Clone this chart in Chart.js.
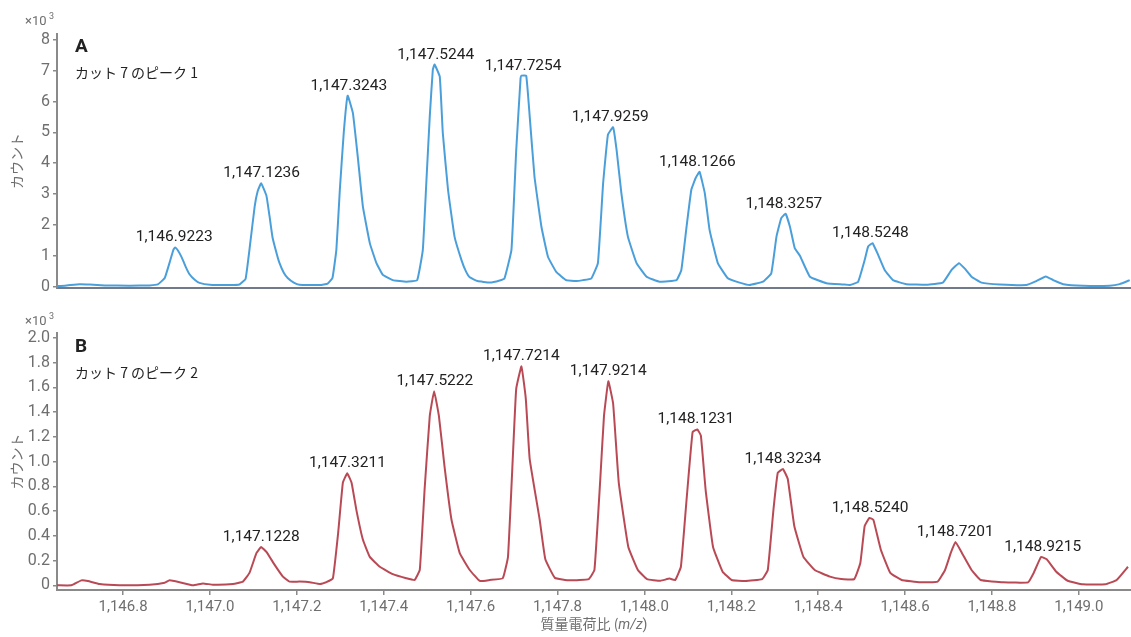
<!DOCTYPE html>
<html>
<head>
<meta charset="utf-8">
<script src="https://cdn.jsdelivr.net/npm/chart.js@4.4.1/dist/chart.umd.min.js"></script>
<style>
  html, body { margin: 0; padding: 0; background: #fff; }
  #wrap { position: relative; width: 1131px; height: 637px; }
  .panel { position: absolute; left: 0; width: 1131px; }
</style>
</head>
<body>
<div id="wrap">
  <div class="panel" style="top:0;height:300px"><canvas id="chartA"></canvas></div>
  <div class="panel" style="top:300px;height:337px"><canvas id="chartB"></canvas></div>
</div>
<script>
// m/z range shown on both panels
var mzMin = 1146.648, mzMax = 1149.12;

// panel A : counts in x10^3
var topMz = [1146.648, 1146.666, 1146.700, 1146.723, 1146.758, 1146.815, 1146.861, 1146.880, 1146.896, 1146.907,
  1146.916, 1146.920, 1146.926, 1146.935, 1146.944, 1146.953, 1146.965, 1146.976, 1147.000, 1147.045,
  1147.068, 1147.082, 1147.091, 1147.103, 1147.110, 1147.118, 1147.130, 1147.137, 1147.144, 1147.154,
  1147.160, 1147.170, 1147.179, 1147.193, 1147.206, 1147.253, 1147.271, 1147.282, 1147.291, 1147.299,
  1147.308, 1147.317, 1147.329, 1147.341, 1147.352, 1147.368, 1147.383, 1147.398, 1147.421, 1147.452,
  1147.477, 1147.490, 1147.498, 1147.506, 1147.513, 1147.517, 1147.529, 1147.536, 1147.548, 1147.563,
  1147.579, 1147.589, 1147.598, 1147.616, 1147.644, 1147.667, 1147.678, 1147.694, 1147.705, 1147.715,
  1147.717, 1147.728, 1147.736, 1147.747, 1147.763, 1147.778, 1147.797, 1147.820, 1147.843, 1147.859,
  1147.878, 1147.893, 1147.905, 1147.916, 1147.928, 1147.936, 1147.947, 1147.962, 1147.982, 1148.005,
  1148.035, 1148.074, 1148.085, 1148.097, 1148.108, 1148.118, 1148.127, 1148.139, 1148.150, 1148.169,
  1148.192, 1148.219, 1148.242, 1148.273, 1148.292, 1148.304, 1148.315, 1148.325, 1148.335, 1148.346,
  1148.358, 1148.381, 1148.419, 1148.457, 1148.473, 1148.492, 1148.507, 1148.515, 1148.525, 1148.538,
  1148.553, 1148.572, 1148.603, 1148.649, 1148.687, 1148.707, 1148.724, 1148.737, 1148.753, 1148.776,
  1148.818, 1148.879, 1148.899, 1148.924, 1148.941, 1148.964, 1149.010, 1149.071, 1149.094, 1149.117];
var topCounts = [0.02, 0.03, 0.08, 0.07, 0.04, 0.03, 0.04, 0.07, 0.28, 0.77,
  1.2, 1.27, 1.18, 0.95, 0.65, 0.4, 0.22, 0.12, 0.06, 0.05,
  0.07, 0.25, 1.2, 2.6, 3.1, 3.35, 2.95, 2.3, 1.6, 1.05,
  0.77, 0.45, 0.28, 0.13, 0.06, 0.05, 0.1, 0.28, 1.19, 3.14,
  4.99, 6.19, 5.63, 4.11, 2.6, 1.41, 0.77, 0.38, 0.21, 0.16,
  0.21, 1.19, 3.35, 5.52, 7.03, 7.2, 6.81, 4.98, 3.14, 1.62,
  0.86, 0.5, 0.3, 0.18, 0.13, 0.2, 0.27, 1.19, 4.43, 6.76,
  6.84, 6.84, 5.52, 3.57, 1.94, 0.97, 0.48, 0.21, 0.18, 0.21,
  0.27, 0.76, 3.35, 4.92, 5.17, 4.43, 3.03, 1.62, 0.76, 0.32,
  0.16, 0.21, 0.54, 1.94, 3.14, 3.52, 3.72, 3.03, 1.84, 0.76,
  0.27, 0.13, 0.05, 0.16, 0.43, 1.62, 2.22, 2.36, 1.94, 1.25,
  1.0, 0.32, 0.11, 0.07, 0.05, 0.16, 0.86, 1.3, 1.41, 1.03,
  0.54, 0.21, 0.08, 0.06, 0.13, 0.54, 0.76, 0.59, 0.32, 0.13,
  0.07, 0.05, 0.16, 0.33, 0.21, 0.08, 0.03, 0.03, 0.08, 0.21];
var topPeakMz = [1146.9223, 1147.1236, 1147.3243, 1147.5244, 1147.7254, 1147.9259, 1148.1266, 1148.3257, 1148.5248];
var topPeakCounts = [1.27, 3.35, 6.19, 7.2, 6.84, 5.17, 3.72, 2.36, 1.41];

// panel B : counts in x10^3
var bottomMz = [1146.648, 1146.681, 1146.704, 1146.719, 1146.746, 1146.792, 1146.861, 1146.896, 1146.907, 1146.930,
  1146.961, 1146.984, 1147.007, 1147.053, 1147.076, 1147.091, 1147.107, 1147.118, 1147.130, 1147.149,
  1147.168, 1147.183, 1147.206, 1147.230, 1147.253, 1147.268, 1147.283, 1147.295, 1147.306, 1147.316,
  1147.326, 1147.337, 1147.352, 1147.368, 1147.391, 1147.421, 1147.452, 1147.471, 1147.483, 1147.494,
  1147.506, 1147.516, 1147.527, 1147.540, 1147.556, 1147.575, 1147.598, 1147.621, 1147.644, 1147.674,
  1147.686, 1147.698, 1147.705, 1147.717, 1147.727, 1147.736, 1147.759, 1147.772, 1147.794, 1147.829,
  1147.872, 1147.885, 1147.898, 1147.907, 1147.917, 1147.928, 1147.941, 1147.963, 1147.985, 1148.006,
  1148.037, 1148.058, 1148.071, 1148.084, 1148.097, 1148.111, 1148.122, 1148.130, 1148.141, 1148.158,
  1148.180, 1148.201, 1148.232, 1148.271, 1148.284, 1148.297, 1148.307, 1148.319, 1148.330, 1148.345,
  1148.366, 1148.392, 1148.427, 1148.453, 1148.483, 1148.497, 1148.507, 1148.518, 1148.527, 1148.544,
  1148.566, 1148.592, 1148.635, 1148.675, 1148.692, 1148.705, 1148.716, 1148.731, 1148.753, 1148.774,
  1148.826, 1148.883, 1148.896, 1148.913, 1148.926, 1148.948, 1148.974, 1149.009, 1149.061, 1149.087,
  1149.113];
var bottomCounts = [0.0, 0.0, 0.04, 0.035, 0.01, 0.0, 0.005, 0.02, 0.04, 0.025,
  0.0, 0.015, 0.005, 0.01, 0.03, 0.1, 0.26, 0.31, 0.27, 0.165,
  0.07, 0.03, 0.03, 0.025, 0.01, 0.025, 0.057, 0.42, 0.83, 0.905,
  0.83, 0.61, 0.37, 0.23, 0.15, 0.09, 0.057, 0.043, 0.124, 0.77,
  1.37, 1.57, 1.37, 0.96, 0.53, 0.26, 0.124, 0.035, 0.043, 0.057,
  0.23, 1.1, 1.59, 1.77, 1.51, 1.02, 0.53, 0.21, 0.06, 0.04,
  0.05, 0.124, 0.83, 1.37, 1.65, 1.47, 0.83, 0.31, 0.124, 0.05,
  0.037, 0.054, 0.043, 0.15, 0.69, 1.24, 1.26, 1.21, 0.77, 0.31,
  0.11, 0.043, 0.035, 0.05, 0.124, 0.61, 0.91, 0.94, 0.86, 0.48,
  0.23, 0.124, 0.07, 0.05, 0.05, 0.18, 0.48, 0.545, 0.53, 0.29,
  0.1, 0.043, 0.024, 0.03, 0.124, 0.26, 0.35, 0.26, 0.124, 0.043,
  0.024, 0.024, 0.1, 0.23, 0.21, 0.11, 0.037, 0.008, 0.008, 0.043,
  0.15];
var bottomPeakMz = [1147.1228, 1147.3211, 1147.5222, 1147.7214, 1147.9214, 1148.1231, 1148.3234, 1148.5240, 1148.7201, 1148.9215];
var bottomPeakCounts = [0.31, 0.905, 1.57, 1.77, 1.65, 1.26, 0.94, 0.545, 0.35, 0.23];

var SANS = "Roboto, sans-serif";
var JP = "'Noto Sans CJK JP', sans-serif";
var GREY = '#6f6f6f';

function fmtMz(v, d) {
  return v.toLocaleString('en-US', { minimumFractionDigits: d, maximumFractionDigits: d });
}

function toPoints(xs, ys) {
  return xs.map(function (x, i) { return { x: x, y: ys[i] }; });
}

function zeroPad(scale) {
  scale.paddingTop = 0; scale.paddingBottom = 0;
  scale.paddingLeft = 0; scale.paddingRight = 0;
}

// peak labels, panel caption, x10^3 and axis titles
var notes = {
  id: 'notes',
  afterDraw: function (chart, args, o) {
    var ctx = chart.ctx, x = chart.scales.x, y = chart.scales.y, area = chart.chartArea;
    ctx.save();
    ctx.fillStyle = '#222';
    ctx.font = '15.5px ' + SANS;
    ctx.textAlign = 'center';
    ctx.textBaseline = 'alphabetic';
    o.peakMz.forEach(function (m, i) {
      ctx.fillText(fmtMz(m, 4), x.getPixelForValue(m) - 2, y.getPixelForValue(o.peakCounts[i]) - 6);
    });

    ctx.textAlign = 'left';
    ctx.font = 'bold 19px ' + SANS;
    ctx.fillText(o.letter, 75, 52);
    ctx.font = '14px ' + JP;
    ctx.fillText(o.caption, 75, 78);

    ctx.fillStyle = GREY;
    ctx.font = '13px ' + SANS;
    ctx.fillText('×10', 25, 25);
    ctx.font = '9px ' + SANS;
    ctx.fillText('3', 49, 19);

    ctx.save();
    ctx.translate(22, (area.top + area.bottom) / 2);
    ctx.rotate(-Math.PI / 2);
    ctx.textAlign = 'center';
    ctx.font = '14px ' + JP;
    ctx.fillText('カウント', 0, 0);
    ctx.restore();

    if (o.xTitle) {
      var cx = (area.left + area.right) / 2, ty = 329;
      ctx.font = '14px ' + JP;
      var a = '質量電荷比 (', b = 'm/z', c = ')';
      var wa = ctx.measureText(a).width;
      ctx.font = 'italic 14px ' + SANS;
      var wb = ctx.measureText(b).width;
      ctx.font = '14px ' + SANS;
      var wc = ctx.measureText(c).width;
      var sx = cx - (wa + wb + wc) / 2;
      ctx.font = '14px ' + JP;
      ctx.fillText(a, sx, ty);
      ctx.font = 'italic 14px ' + SANS;
      ctx.fillText(b, sx + wa, ty);
      ctx.font = '14px ' + SANS;
      ctx.fillText(c, sx + wa + wb, ty);
    }
    ctx.restore();
  }
};

function makeChart(id, opts) {
  var ctx = document.getElementById(id).getContext('2d');
  return new Chart(ctx, {
    type: 'line',
    data: {
      datasets: [{
        data: toPoints(opts.mz, opts.counts),
        borderColor: opts.color,
        borderWidth: 2,
        pointRadius: 0,
        tension: 0.1,
        fill: false
      }]
    },
    options: {
      responsive: true,
      maintainAspectRatio: false,
      animation: false,
      events: [],
      layout: { padding: { top: opts.padTop, left: 0, right: 0, bottom: 0 } },
      plugins: {
        legend: { display: false },
        tooltip: { enabled: false },
        notes: {
          peakMz: opts.peakMz, peakCounts: opts.peakCounts,
          letter: opts.letter, caption: opts.caption, xTitle: opts.xTitle
        }
      },
      scales: {
        x: {
          type: 'linear',
          min: mzMin,
          max: mzMax,
          border: { display: true, color: opts.xAxisColor, width: 2 },
          grid: { display: opts.xTicks, drawOnChartArea: false, drawTicks: opts.xTicks, tickLength: 5, color: '#8a8a8a', lineWidth: 1.5 },
          ticks: {
            display: opts.xTicks,
            stepSize: 0.2,
            includeBounds: false,
            maxRotation: 0,
            autoSkip: false,
            padding: 3,
            color: GREY,
            font: { family: SANS, size: 15 },
            callback: function (v) { return fmtMz(v, 1); }
          },
          afterFit: function (scale) { scale.height = opts.xHeight; zeroPad(scale); }
        },
        y: {
          min: opts.yMin,
          max: opts.yMax,
          border: { display: true, color: '#8a8a8a', width: 2 },
          grid: { display: true, drawOnChartArea: false, drawTicks: true, tickLength: 4, color: '#8a8a8a', lineWidth: 1.5 },
          ticks: {
            stepSize: opts.yStep,
            includeBounds: false,
            padding: 3,
            color: GREY,
            font: { family: SANS, size: 16 },
            callback: opts.yFormat
          },
          afterFit: function (scale) { scale.width = 57; zeroPad(scale); }
        }
      }
    },
    plugins: [notes]
  });
}

makeChart('chartA', {
  mz: topMz, counts: topCounts, color: '#4a9fdb',
  peakMz: topPeakMz, peakCounts: topPeakCounts,
  letter: 'A', caption: 'カット 7 のピーク 1', xTitle: false,
  padTop: 34, xHeight: 12, xTicks: false, xAxisColor: '#707a8a',
  yMin: -0.045, yMax: 8.19, yStep: 1,
  yFormat: function (v) { return String(Math.round(v)); }
});

makeChart('chartB', {
  mz: bottomMz, counts: bottomCounts, color: '#b94a55',
  peakMz: bottomPeakMz, peakCounts: bottomPeakCounts,
  letter: 'B', caption: 'カット 7 のピーク 2', xTitle: true,
  padTop: 33, xHeight: 47, xTicks: true, xAxisColor: '#8a8a8a',
  yMin: -0.038, yMax: 2.04, yStep: 0.2,
  yFormat: function (v) { return Math.abs(v) < 1e-9 ? '0' : v.toFixed(1); }
});
</script>
</body>
</html>
